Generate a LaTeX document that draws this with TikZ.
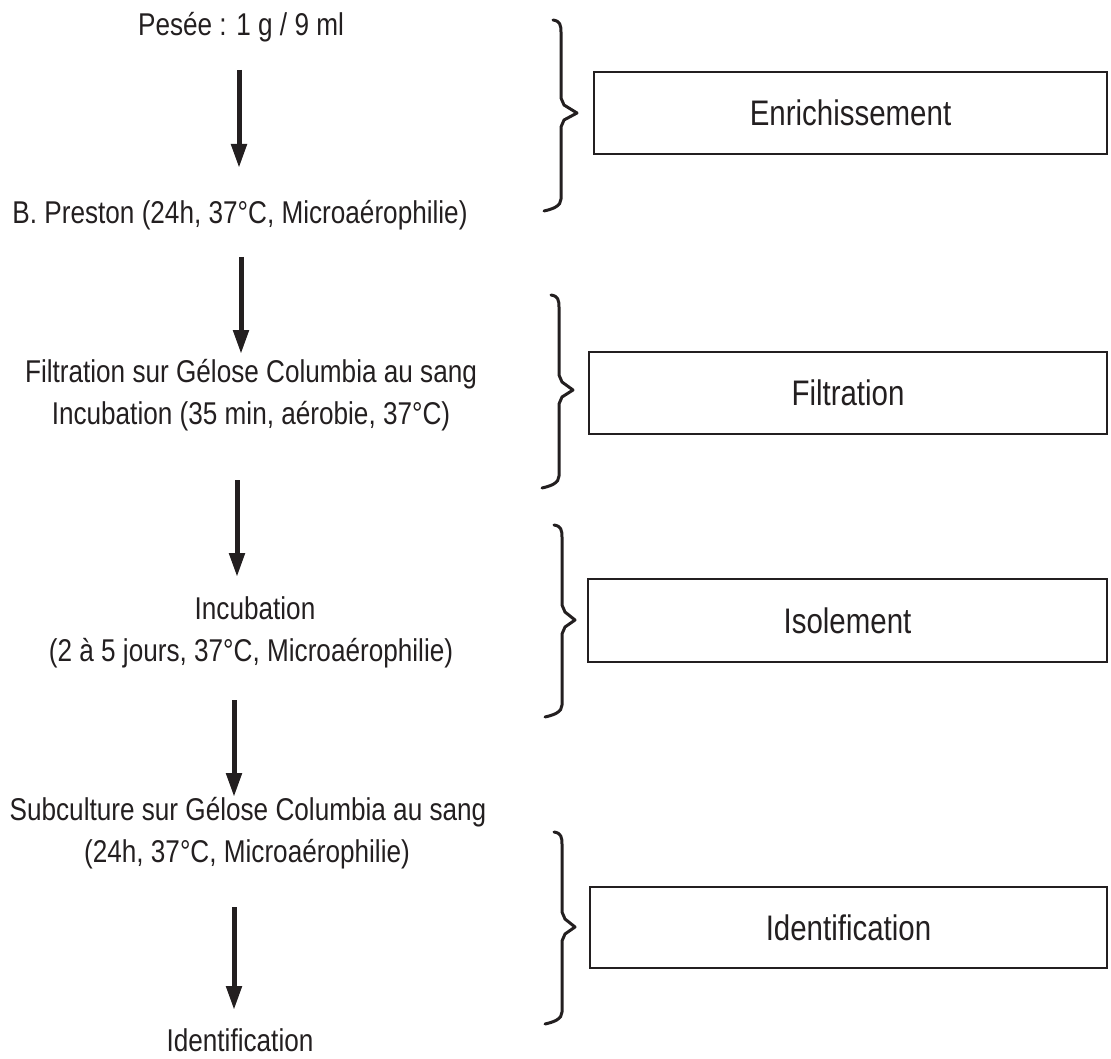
\documentclass[tikz,border=0pt]{standalone}
\usepackage{fontspec}
\setmainfont{Liberation Sans}[FakeStretch=0.83]
\usetikzlibrary{arrows.meta}
\definecolor{ink}{RGB}{35,31,32}
\tikzset{
  lefttext/.style={anchor=base, inner sep=0pt, text=ink, font=\fontsize{31.5}{36}\selectfont},
  boxtext/.style={inner sep=0pt, text=ink, font=\fontsize{35.5}{40}\selectfont},
  stagebox/.style={draw=ink, line width=2.6pt},
  flowarrow/.style={draw=ink, line width=5pt, -{Triangle[length=24pt,width=15pt]}},
  bracketline/.style={draw=ink, line width=3pt, line join=round, line cap=round}
}
\newcommand{\stagebrace}[5]{% x, ytop, ytip, ybot, xtip
  \draw[bracketline] (#1-8,#2) .. controls (#1-1,#2+1) and (#1,#2+5) .. (#1,#2+12)
    -- (#1,#3-15) -- (#1+3,#3-8) -- (#5,#3) -- (#1+3,#3+7) -- (#1,#3+14)
    -- (#1,#4-12) .. controls (#1,#4-5) and (#1-8,#4-2) .. (#1-17,#4);
}
\begin{document}
\begin{tikzpicture}[x=1pt,y=-1pt]
\useasboundingbox (0,0) rectangle (1111,1059);

% left column texts
\node[lefttext] (t1) at (241,36) {Pesée : 1 g / 9 ml};
\node[lefttext] (t2) at (240,224) {B. Preston (24h, 37°C, Microaérophilie)};
\node[lefttext] (t3a) at (251,382) {Filtration sur Gélose Columbia au sang};
\node[lefttext] (t3b) at (251,424) {Incubation (35 min, aérobie, 37°C)};
\node[lefttext] (t4a) at (255,619) {Incubation};
\node[lefttext] (t4b) at (251,661) {(2 à 5 jours, 37°C, Microaérophilie)};
\node[lefttext] (t5a) at (248,820) {Subculture sur Gélose Columbia au sang};
\node[lefttext] (t5b) at (247,862) {(24h, 37°C, Microaérophilie)};
\node[lefttext] (t6) at (240,1051) {Identification};

% arrow end points
\coordinate (a1s) at (239,70);  \coordinate (a1e) at (239,168);
\coordinate (a2s) at (241,257); \coordinate (a2e) at (241,354);
\coordinate (a3s) at (237,480); \coordinate (a3e) at (237,577);
\coordinate (a4s) at (234,700); \coordinate (a4e) at (234,797);
\coordinate (a5s) at (234,907); \coordinate (a5e) at (234,1010);
\draw[flowarrow] (a1s) -- (a1e);
\draw[flowarrow] (a2s) -- (a2e);
\draw[flowarrow] (a3s) -- (a3e);
\draw[flowarrow] (a4s) -- (a4e);
\draw[flowarrow] (a5s) -- (a5e);

% braces
\stagebrace{561}{20}{113}{211}{577}
\stagebrace{559}{295}{390}{488}{573}
\stagebrace{562}{525}{620}{717}{575}
\stagebrace{562}{832}{927}{1024}{575}

% stage boxes
\draw[stagebox] (594,72) rectangle (1107,154);
\draw[stagebox] (589,352) rectangle (1107,434);
\draw[stagebox] (588,579) rectangle (1107,662);
\draw[stagebox] (590,887) rectangle (1107,968);
\node[boxtext] (b1) at (850.5,113) {Enrichissement};
\node[boxtext] (b2) at (848,393) {Filtration};
\node[boxtext] (b3) at (847.5,620.5) {Isolement};
\node[boxtext] (b4) at (848.5,927.5) {Identification};
\end{tikzpicture}
\end{document}
